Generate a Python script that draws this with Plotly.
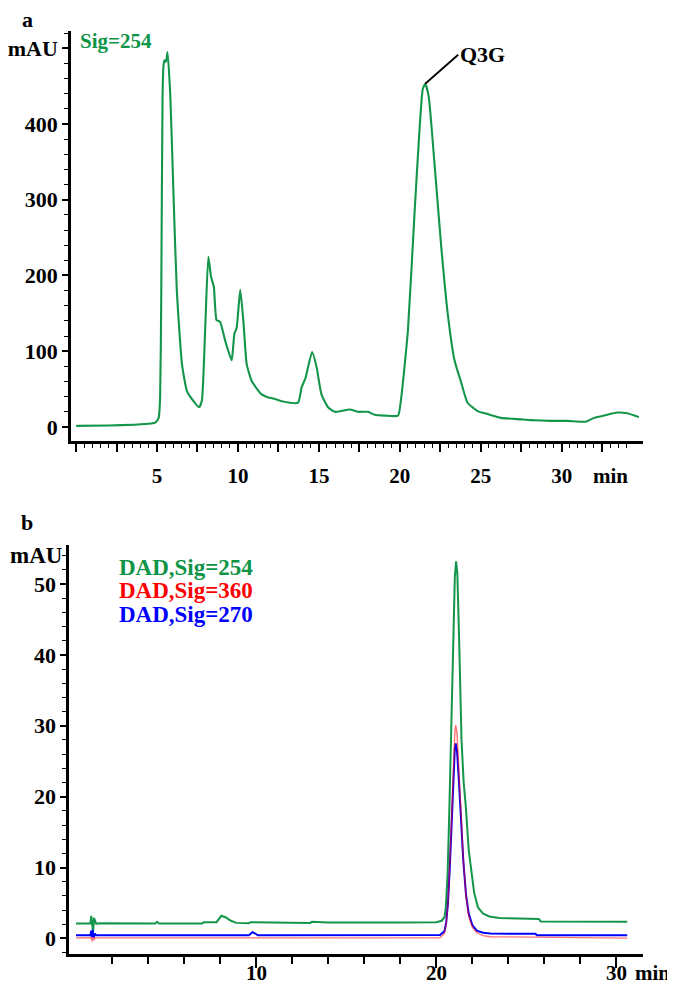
import plotly.graph_objects as go

# ---------------- Panel a data (Sig=254) ----------------
t_a = [0, 2, 3.6, 4.64, 4.89, 5.10, 5.19, 5.26, 5.34, 5.40, 5.46, 5.55, 5.65, 5.82, 6.02, 6.22,
       6.54, 6.84, 7.15, 7.60, 7.77, 7.97, 8.17, 8.34, 8.51, 8.68, 8.89, 9.21, 9.61, 9.78,
       9.92, 10.14, 10.33, 10.54, 10.84, 11.05, 11.46, 11.87, 12.28, 12.70, 13.71, 13.93,
       14.18, 14.58, 14.86, 15.16, 15.57, 15.98, 16.39, 16.91, 17.42, 18.03, 18.45, 19.07,
       19.89, 20.09, 20.50, 20.91, 21.22, 21.42, 21.57, 21.78, 22.14, 22.56, 22.96, 23.38,
       23.79, 24.19, 24.81, 25.43, 26.26, 27.49, 28.10, 29.33, 30.36, 31.49, 32.00, 32.63,
       33.43, 34.05, 34.77]
v_a = [1.5, 2, 3, 4.5, 5.7, 12, 39, 172, 437, 477, 484, 482, 495, 437, 305, 181,
       83, 48, 37, 26, 35, 127, 225, 198, 185, 141, 139, 114, 88, 123,
       131, 181, 141, 83, 61, 54, 43, 39, 37, 34, 32, 52,
       65, 99, 79, 43, 26, 20, 21, 23, 20, 20, 16, 15,
       15, 39, 127, 282, 393, 446, 453, 437, 349, 238, 150, 88,
       59, 32, 21, 17, 12, 10, 9, 8, 8, 7, 12, 15,
       19, 18, 13]

ya_tickvals = [0, 100, 200, 300, 400, 500]
ya_ticktext = ["0", "100", "200", "300", "400", "mAU"]
xa_tickvals = [0, 2.5, 5, 7.5, 10, 12.5, 15, 17.5, 20, 22.5, 25, 27.5, 30, 32.5]
xa_ticktext = ["", "", "5", "", "10", "", "15", "", "20", "", "25", "", "30", ""]
xa_minor = [0.5, 1, 1.5, 2, 3, 3.5, 4, 4.5, 5.5, 6, 6.5, 7, 8, 8.5, 9, 9.5, 10.5, 11, 11.5, 12,
            13, 13.5, 14, 14.5, 15.5, 16, 16.5, 17, 18, 18.5, 19, 19.5, 20.5, 21, 21.5, 22,
            23, 23.5, 24, 24.5, 25.5, 26, 26.5, 27, 28, 28.5, 29, 29.5, 30.5, 31, 31.5, 32,
            33, 33.5, 34]

# ---------------- Panel b data ----------------
t_g = [0, 0.8, 0.85, 0.9, 0.95, 1.0, 1.05, 1.12, 1.5, 3.0, 4.4, 4.5, 4.6, 7.0, 7.1, 7.8, 7.95,
       8.07, 8.3, 8.6, 8.9, 9.6, 9.7, 10.8, 10.9, 13.0, 13.1, 13.5, 13.6, 14.0, 18, 20.0,
       20.3, 20.46, 20.53, 20.63, 20.73, 20.83, 20.95, 21.03, 21.1, 21.17, 21.27, 21.4,
       21.52, 21.64, 21.8, 21.95, 22.1, 22.31, 22.6, 22.95, 23.5, 24.0, 25.7, 25.8, 30.6]
v_g = [2.1, 2.1, 3.2, 1.6, 0.9, 2.9, 2.5, 2.1, 2.15, 2.1, 2.1, 2.35, 2.1, 2.1, 2.3, 2.3, 2.8,
       3.2, 3.0, 2.5, 2.2, 2.15, 2.3, 2.3, 2.2, 2.2, 2.35, 2.3, 2.35, 2.25, 2.25, 2.3,
       2.5, 3.0, 4.4, 9.1, 18.6, 28.1, 43, 51, 53.2, 51.5, 42, 28.1,
       22, 18.6, 12.5, 9.1, 6.5, 4.4, 3.5, 3.1, 2.9, 2.85, 2.75, 2.4, 2.35]

t_b = [0, 0.8, 0.85, 0.88, 0.93, 0.98, 1.05, 1.12, 9.6, 9.7, 9.8, 9.95, 10.1, 20.2, 20.45,
       20.55, 20.65, 20.75, 20.85, 20.95, 21.03, 21.08, 21.15, 21.25, 21.35, 21.5, 21.65,
       21.8, 22.0, 22.25, 22.6, 23.0, 25.5, 25.6, 30.6]
v_b = [0.45, 0.45, 1.1, 0.2, 1.2, 0.1, 0.7, 0.45, 0.45, 0.7, 0.9, 0.7, 0.45, 0.5, 1.0,
       2.2, 5, 10, 17, 23.5, 26.8, 27.5, 26.5, 22.5, 17.5, 11, 6.2,
       3.5, 1.9, 1.1, 0.8, 0.7, 0.65, 0.45, 0.45]

t_r = [0, 0.85, 0.9, 0.95, 1.0, 1.05, 20.2, 20.45, 20.55, 20.65, 20.75, 20.85, 20.95, 21.03,
       21.08, 21.15, 21.25, 21.35, 21.5, 21.65, 21.8, 22.0, 22.25, 22.6, 23, 30.6]
v_r = [0.08, 0.1, -0.4, 0.15, -0.2, 0.08, 0.1, 0.7, 2.0, 5, 10.5, 18, 25, 29,
       30.1, 29, 24, 18.5, 11.2, 6, 3.2, 1.6, 0.8, 0.4, 0.25, 0.05]

yb_tickvals = [0, 10, 20, 30, 40, 50]
xb_tickvals = [10, 20, 30]
xb_ticktext = ["10", "20", "30"]
xb_minor = [2, 4, 6, 8, 12, 14, 16, 18, 22, 24, 26, 28]

GREEN = "#13964a"
GREEN_T = "#0e9447"
FONT = "Liberation Serif"
W, H = 675, 996


def px(x):
    return x / W


def py(y):
    return 1 - y / H


def bold(size, color="black"):
    return dict(family=FONT, size=size, color=color, weight="bold")


fig = go.Figure()
fig.add_trace(go.Scatter(x=t_a, y=v_a, mode="lines",
                         line=dict(color=GREEN, width=2.1, shape="spline", smoothing=0.5),
                         xaxis="x", yaxis="y", showlegend=False))
fig.add_trace(go.Scatter(x=t_g, y=v_g, mode="lines", line=dict(color=GREEN, width=2),
                         xaxis="x2", yaxis="y2", showlegend=False))
fig.add_trace(go.Scatter(x=t_b, y=v_b, mode="lines", line=dict(color="#0000ff", width=2),
                         xaxis="x2", yaxis="y2", showlegend=False))
fig.add_trace(go.Scatter(x=t_r, y=v_r, mode="lines", line=dict(color="rgba(255,0,0,0.55)", width=1.4),
                         xaxis="x2", yaxis="y2", showlegend=False))

common = dict(showgrid=False, zeroline=False, showline=True, linecolor="black",
              linewidth=3, ticks="outside", tickcolor="black")

fig.update_layout(
    width=W, height=H, margin=dict(l=0, r=0, t=0, b=0),
    paper_bgcolor="white", plot_bgcolor="white",
    xaxis=dict(domain=[px(55), px(634)], range=[-0.3, 35.0], anchor="y",
               tickmode="array", tickvals=xa_tickvals, ticktext=xa_ticktext,
               ticklen=8, tickwidth=2, ticklabelstandoff=6, tickfont=bold(21),
               minor=dict(tickmode="array", tickvals=xa_minor, ticklen=4, tickwidth=1,
                          ticks="outside", tickcolor="black"),
               **common),
    yaxis=dict(domain=[py(432.6), py(23)], range=[-18, 522.7], anchor="x",
               tickmode="array", tickvals=ya_tickvals, ticktext=ya_ticktext,
               ticklen=6, tickwidth=2, tickfont=bold(22),
               minor=dict(dtick=20, ticklen=4, tickwidth=1, ticks="outside", tickcolor="black"),
               **common),
    xaxis2=dict(domain=[px(53), px(634)], range=[-0.37, 31.45], anchor="y2",
                tickmode="array", tickvals=xb_tickvals, showticklabels=False,
                ticklen=11, tickwidth=2,
                minor=dict(tickmode="array", tickvals=xb_minor, ticklen=7, tickwidth=1.5,
                           ticks="outside", tickcolor="black"),
                **common),
    yaxis2=dict(domain=[py(946), py(537)], range=[-2.19, 55.5], anchor="x2",
                tickmode="array", tickvals=yb_tickvals,
                ticklen=6, tickwidth=2, tickfont=bold(22),
                minor=dict(dtick=2, ticklen=4, tickwidth=1, ticks="outside", tickcolor="black"),
                **common),
)

annotations = [
    dict(text="a", x=px(11), y=py(11), font=bold(22)),
    dict(text="b", x=px(10), y=py(514), font=bold(22)),
    dict(text="Sig=254", x=px(62), y=py(33), xanchor="left", font=bold(21, GREEN_T)),
    dict(text="DAD,Sig=254", x=px(101), y=py(559), xanchor="left", font=bold(23, GREEN_T)),
    dict(text="DAD,Sig=360", x=px(101), y=py(582.5), xanchor="left", font=bold(23, "#ff0000")),
    dict(text="DAD,Sig=270", x=px(101), y=py(606), xanchor="left", font=bold(23, "#0000ff")),
    dict(text="mAU", x=px(49), y=py(547), xanchor="right", font=bold(23)),
    dict(text="min", x=px(602), y=py(468), font=bold(21)),
    dict(text="min", x=px(644), y=py(965), font=bold(21)),
]
for a in annotations:
    a.update(xref="paper", yref="paper", showarrow=False, yanchor="middle")
    a.setdefault("xanchor", "center")

# x tick labels of panel b, placed under their ticks
for tv, tt in zip(xb_tickvals, xb_ticktext):
    annotations.append(dict(text=tt, x=tv, xref="x2", y=py(965), yref="paper",
                            showarrow=False, xanchor="center", yanchor="middle", font=bold(21)))

# Q3G label with leader line to the peak apex
pk = v_a.index(max(v_a[50:]))
annotations.append(dict(text="Q3G", x=t_a[pk], y=v_a[pk], xref="x", yref="y",
                        showarrow=True, arrowhead=0, arrowwidth=1.8, arrowcolor="black",
                        ax=33, ay=-29, xanchor="left", yanchor="middle",
                        font=bold(22)))
fig.update_layout(annotations=annotations)

fig.write_html("out.html")
